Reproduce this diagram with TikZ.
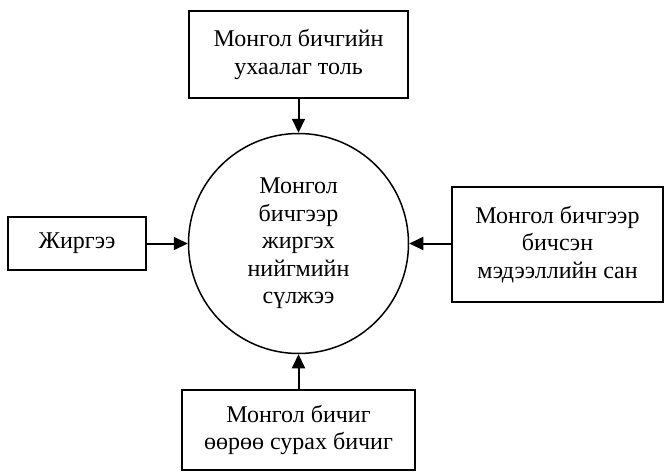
\documentclass[tikz,border=0pt]{standalone}
\usepackage{fontspec}
\setmainfont{Liberation Serif}
\usetikzlibrary{arrows.meta}
\begin{document}
\begin{tikzpicture}[x=1pt,y=-1pt,
  txt/.style={font=\fontsize{24}{27.5}\selectfont, align=center, inner sep=0pt},
  box/.style={txt, draw, line width=1.8pt},
  hub/.style={txt, draw, circle, line width=1.5pt},
  conn/.style={line width=2pt, -{Triangle[length=14pt,width=13pt]}}]
\useasboundingbox (0,0) rectangle (665,472);
\node[hub, minimum size=220pt] (c) at (298.5,243.5) {Монгол\\бичгээр\\жиргэх\\нийгмийн\\сүлжээ};
\node[box, minimum width=219pt, minimum height=87pt] (t) at (298.5,54.5) {Монгол бичгийн\\ухаалаг толь};
\node[box, minimum width=138pt, minimum height=53pt] (l) at (77,243.5) {Жиргээ};
\node[box, minimum width=211pt, minimum height=115pt] (r) at (557.5,244.5) {Монгол бичгээр\\бичсэн\\мэдээллийн сан};
\node[box, minimum width=233pt, minimum height=80pt] (b) at (298.5,430) {Монгол бичиг\\өөрөө сурах бичиг};
\draw[conn] (t.south) -- (c.north);
\draw[conn] (l.east) -- (c.west);
\draw[conn] (r.west |- c.east) -- (c.east);
\draw[conn] (b.north) -- (c.south);
\end{tikzpicture}
\end{document}
